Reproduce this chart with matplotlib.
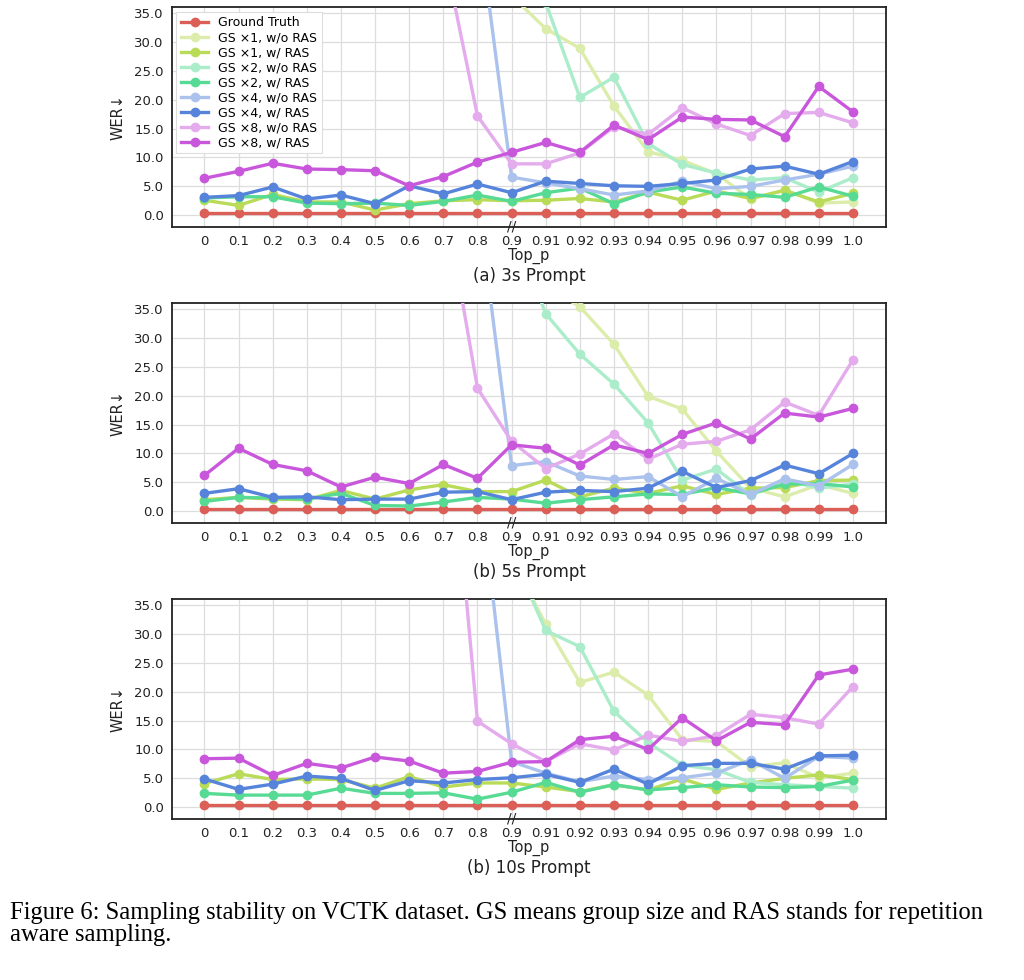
import matplotlib
matplotlib.use('Agg')
import matplotlib.pyplot as plt
import matplotlib.transforms as mtransforms
import matplotlib.colors as mcolors

# ---------------- data ----------------
top_p_labels = ['0', '0.1', '0.2', '0.3', '0.4', '0.5', '0.6', '0.7', '0.8', '0.9',
                '0.91', '0.92', '0.93', '0.94', '0.95', '0.96', '0.97', '0.98', '0.99', '1.0']

series_names = ['Ground Truth',
                'GS ×1, w/o RAS', 'GS ×1, w/ RAS',
                'GS ×2, w/o RAS', 'GS ×2, w/ RAS',
                'GS ×4, w/o RAS', 'GS ×4, w/ RAS',
                'GS ×8, w/o RAS', 'GS ×8, w/ RAS']

panel_titles = ['(a) 3s Prompt', '(b) 5s Prompt', '(b) 10s Prompt']

# ---- 3s prompt ----
gt_3s = [0.35, 0.35, 0.35, 0.35, 0.35, 0.35, 0.35, 0.35, 0.35, 0.35,
         0.35, 0.35, 0.35, 0.35, 0.35, 0.35, 0.35, 0.35, 0.35, 0.35]
gs1_wo_3s = [70, 68, 66, 64, 62, 58, 55, 50, 45, 38,
             32.3, 28.9, 18.9, 11.0, 9.5, 7.2, 2.8, 4.4, 2.1, 2.3]
gs1_w_3s = [2.6, 1.7, 3.6, 2.3, 2.3, 0.9, 2.0, 2.5, 2.7, 2.5,
            2.6, 2.9, 2.3, 4.0, 2.6, 4.2, 2.9, 4.3, 2.3, 3.8]
gs2_wo_3s = [75, 72, 70, 68, 66, 63, 60, 58, 55, 50,
             36.8, 20.4, 23.9, 12.4, 8.8, 7.3, 6.1, 6.5, 4.0, 6.5]
gs2_w_3s = [3.0, 3.2, 3.2, 2.1, 2.0, 2.1, 1.7, 2.4, 3.5, 2.4,
            3.9, 4.7, 2.0, 4.0, 4.9, 3.8, 3.6, 3.1, 4.9, 3.3]
gs4_wo_3s = [70, 68, 67, 65, 64, 62, 60, 58, 52, 6.6,
             5.6, 4.6, 3.5, 4.2, 5.9, 4.6, 5.0, 6.1, 7.1, 8.5]
gs4_w_3s = [3.1, 3.4, 4.9, 2.8, 3.5, 2.0, 5.1, 3.7, 5.4, 3.9,
            5.9, 5.5, 5.1, 5.0, 5.5, 6.1, 8.0, 8.5, 7.1, 9.3]
gs8_wo_3s = [65, 63, 62, 60, 58, 55, 52, 46, 17.2, 8.9,
             8.9, 10.8, 15.3, 14.0, 18.6, 15.8, 13.8, 17.6, 17.8, 16.0]
gs8_w_3s = [6.4, 7.6, 9.0, 8.0, 7.9, 7.7, 5.1, 6.7, 9.2, 10.9,
            12.6, 10.9, 15.6, 13.1, 17.0, 16.6, 16.5, 13.6, 22.3, 17.9]

# ---- 5s prompt ----
gt_5s = [0.35, 0.35, 0.35, 0.35, 0.35, 0.35, 0.35, 0.35, 0.35, 0.35,
         0.35, 0.35, 0.35, 0.35, 0.35, 0.35, 0.35, 0.35, 0.35, 0.35]
gs1_wo_5s = [70, 68, 66, 64, 62, 60, 58, 55, 52, 50,
             39.0, 35.4, 28.9, 19.9, 17.7, 10.4, 4.0, 2.5, 4.6, 3.1]
gs1_w_5s = [2.0, 2.4, 2.1, 2.0, 3.6, 2.1, 3.7, 4.6, 3.4, 3.4,
            5.4, 2.5, 4.0, 3.1, 4.4, 2.9, 4.0, 4.1, 5.3, 5.4]
gs2_wo_5s = [72, 70, 68, 66, 64, 62, 60, 58, 55, 50,
             34.2, 27.2, 22.0, 15.3, 5.4, 7.3, 2.8, 5.4, 4.0, 4.7]
gs2_w_5s = [1.7, 2.4, 2.3, 2.1, 3.1, 1.0, 0.9, 1.6, 2.4, 2.1,
            1.4, 2.0, 2.5, 3.0, 2.9, 4.1, 3.0, 4.7, 4.8, 4.2]
gs4_wo_5s = [70, 68, 67, 65, 64, 62, 60, 58, 54.5, 7.9,
             8.6, 6.1, 5.5, 6.0, 2.5, 5.7, 2.9, 5.6, 4.4, 8.1]
gs4_w_5s = [3.1, 3.9, 2.4, 2.5, 2.0, 2.1, 2.1, 3.3, 3.4, 2.0,
            3.3, 3.6, 3.4, 4.0, 6.9, 4.1, 5.3, 8.0, 6.5, 10.0]
gs8_wo_5s = [68, 66, 65, 63, 61, 60, 58, 55.4, 21.3, 12.1,
             7.4, 9.9, 13.4, 9.0, 11.6, 12.1, 14.1, 18.9, 16.6, 26.2]
gs8_w_5s = [6.2, 10.9, 8.1, 7.0, 4.2, 5.9, 4.8, 8.1, 5.7, 11.5,
            10.9, 8.0, 11.5, 10.0, 13.3, 15.3, 12.5, 17.0, 16.3, 17.8]

# ---- 10s prompt ----
gt_10s = [0.35, 0.35, 0.35, 0.35, 0.35, 0.35, 0.35, 0.35, 0.35, 0.35,
          0.35, 0.35, 0.35, 0.35, 0.35, 0.35, 0.35, 0.35, 0.35, 0.35]
gs1_wo_10s = [70, 68, 66, 64, 62, 60, 57, 54, 50, 43,
              31.7, 21.6, 23.4, 19.4, 11.7, 11.4, 7.0, 7.7, 5.1, 5.9]
gs1_w_10s = [4.1, 5.8, 4.8, 4.9, 4.8, 3.3, 5.3, 3.5, 4.2, 4.2,
             3.5, 2.7, 3.9, 3.0, 4.9, 3.1, 4.2, 5.0, 5.6, 4.8]
gs2_wo_10s = [72, 70, 68, 66, 64, 62, 60, 56, 52, 44,
              30.6, 27.8, 16.6, 11.2, 7.3, 6.5, 4.3, 3.9, 3.6, 3.3]
gs2_w_10s = [2.4, 2.1, 2.1, 2.1, 3.3, 2.4, 2.4, 2.5, 1.4, 2.6,
             4.3, 2.6, 3.9, 3.0, 3.4, 3.9, 3.5, 3.4, 3.6, 4.7]
gs4_wo_10s = [72, 70, 68, 67, 66, 65, 64, 62, 60, 7.9,
              5.9, 4.4, 5.4, 4.8, 5.1, 5.9, 8.2, 5.0, 8.8, 8.5]
gs4_w_10s = [4.9, 3.1, 4.0, 5.4, 5.0, 2.9, 4.6, 4.2, 4.8, 5.1,
             5.7, 4.3, 6.6, 4.0, 7.2, 7.6, 7.6, 6.6, 8.9, 9.0]
gs8_wo_10s = [90, 88, 87, 86, 85, 84, 82, 80, 14.9, 11.0,
              7.9, 11.0, 9.9, 12.5, 11.4, 12.4, 16.1, 15.5, 14.4, 20.9]
gs8_w_10s = [8.4, 8.5, 5.5, 7.6, 6.8, 8.7, 8.0, 5.9, 6.2, 7.8,
             7.9, 11.7, 12.3, 10.0, 15.5, 11.5, 14.7, 14.3, 22.9, 23.9]

panels = [
    [gt_3s, gs1_wo_3s, gs1_w_3s, gs2_wo_3s, gs2_w_3s, gs4_wo_3s, gs4_w_3s, gs8_wo_3s, gs8_w_3s],
    [gt_5s, gs1_wo_5s, gs1_w_5s, gs2_wo_5s, gs2_w_5s, gs4_wo_5s, gs4_w_5s, gs8_wo_5s, gs8_w_5s],
    [gt_10s, gs1_wo_10s, gs1_w_10s, gs2_wo_10s, gs2_w_10s, gs4_wo_10s, gs4_w_10s, gs8_wo_10s, gs8_w_10s],
]

caption_lines = ['Figure 6: Sampling stability on VCTK dataset. GS means group size and RAS stands for repetition',
                 'aware sampling.']

# ---------------- style ----------------
base = ['#db5f57', '#b9db57', '#57db94', '#5784db', '#c957db']


def lighten(c, f=0.5):
    r, g, b = mcolors.to_rgb(c)
    return (r + (1 - r) * f, g + (1 - g) * f, b + (1 - b) * f)


colors = [base[0],
          lighten(base[1]), base[1],
          lighten(base[2]), base[2],
          lighten(base[3]), base[3],
          lighten(base[4]), base[4]]

plt.rcParams['font.family'] = ['DejaVu Sans']

W, H = 1024, 980
fig = plt.figure(figsize=(W / 100, H / 100), dpi=100)

ax_left = 172 / W
ax_w = (886 - 172) / W
ax_tops = [7.3, 303.3, 599.3]
ax_h_px = 219.5

x = list(range(len(top_p_labels)))

for p, (data, title) in enumerate(zip(panels, panel_titles)):
    top = ax_tops[p]
    ax = fig.add_axes([ax_left, 1 - (top + ax_h_px) / H, ax_w, ax_h_px / H])
    ax.set_facecolor('white')
    for i, (vals, name) in enumerate(zip(data, series_names)):
        ax.plot(x, vals, marker='o', markersize=6, linewidth=2.4,
                color=colors[i], label=name, zorder=3 + i * 0.1)
    ax.set_xlim(-0.95, 19.97)
    ax.set_ylim(-2.0, 36.0)
    ax.set_yticks([0, 5, 10, 15, 20, 25, 30, 35])
    ax.set_yticklabels(['%.1f' % v for v in [0, 5, 10, 15, 20, 25, 30, 35]], fontsize=9.5, color='#222222')
    ax.set_xticks(x)
    ax.set_xticklabels(top_p_labels, fontsize=9.5, color='#222222')
    ax.tick_params(axis='both', length=0, pad=6)
    ax.grid(True, color='#dddddd', linewidth=0.9, zorder=0)
    ax.set_axisbelow(True)
    for s in ax.spines.values():
        s.set_color('#222222')
        s.set_linewidth(1.3)
    ax.set_ylabel('WER↓', fontsize=10.5, color='#222222', labelpad=6)
    ax.set_xlabel('Top_p', fontsize=10.5, color='#222222', labelpad=0)
    # break mark on x axis at 0.9
    trans = mtransforms.blended_transform_factory(ax.transData, ax.transAxes)
    ax.text(9, 0.0, '//', transform=trans, ha='center', va='center', fontsize=10,
            color='#222222', clip_on=False, zorder=10)
    # panel caption
    ax.text(0.5, -49.5 / ax_h_px, title, transform=ax.transAxes, ha='center', va='center',
            fontsize=12, color='#222222')
    if p == 0:
        leg = ax.legend(loc='upper left', fontsize=9, frameon=True, framealpha=1.0,
                        edgecolor='#dddddd', fancybox=False, labelspacing=0.16,
                        handlelength=2.2, handletextpad=0.8, borderpad=0.35,
                        borderaxespad=0.35)
        leg.get_frame().set_linewidth(0.8)

fig.text(10 / W, 1 - 913 / H, caption_lines[0], family=['Liberation Serif'], fontsize=17.7,
         ha='left', va='center', color='black')
fig.text(10 / W, 1 - 935 / H, caption_lines[1], family=['Liberation Serif'], fontsize=17.7,
         ha='left', va='center', color='black')

fig.savefig('out.png', dpi=100, facecolor='white')
